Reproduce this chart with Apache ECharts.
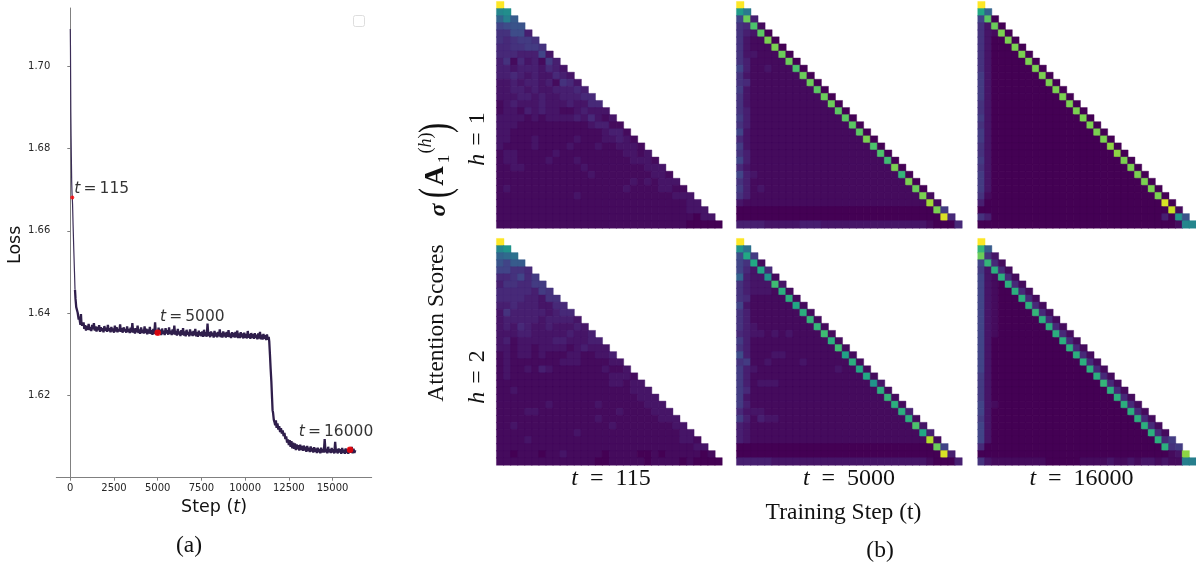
<!DOCTYPE html>
<html><head><meta charset="utf-8">
<style>html,body{margin:0;padding:0;background:#fff;overflow:hidden}#c{width:1196px;height:567px}</style>
<script src="https://cdn.jsdelivr.net/npm/echarts@6/dist/echarts.min.js"></script>
</head><body><div id="c"></div>
<script>
const lossSteps=[0,10,20,30,45,60,80,100,115,130,160,200,240,270,300,340,380,420,440,480,520,550,580,610,640,680,720,760,
800,850,900,950,1000,1050,1100,1150,1200,1250,1300,1350,1400,1450,1500,1550,1600,1650,1700,1750,1800,1850,1900,1950,2000,2050,2100,2150,2200,2250,
2300,2350,2400,2450,2500,2550,2600,2650,2700,2750,2800,2850,2900,2950,3000,3050,3100,3150,3200,3250,3300,3350,3400,3450,3500,3550,3600,3650,3700,3750,
3800,3850,3900,3950,4000,4050,4100,4150,4200,4250,4300,4350,4400,4450,4500,4550,4600,4650,4700,4750,4800,4850,4900,4950,5000,5050,5100,5150,5200,5250,
5300,5350,5400,5450,5500,5550,5600,5650,5700,5750,5800,5850,5900,5950,6000,6050,6100,6150,6200,6250,6300,6350,6400,6450,6500,6550,6600,6650,6700,6750,
6800,6850,6900,6950,7000,7050,7100,7150,7200,7250,7300,7350,7400,7450,7500,7550,7600,7650,7700,7750,7800,7850,7900,7950,8000,8050,8100,8150,8200,8250,
8300,8350,8400,8450,8500,8550,8600,8650,8700,8750,8800,8850,8900,8950,9000,9050,9100,9150,9200,9250,9300,9350,9400,9450,9500,9550,9600,9650,9700,9750,
9800,9850,9900,9950,10000,10050,10100,10150,10200,10250,10300,10350,10400,10450,10500,10550,10600,10650,10700,10750,10800,10850,10900,10950,11000,11050,11100,11150,11200,11250,11300,11350,
11380,11420,11460,11500,11540,11570,11600,11640,11680,11720,11760,11800,11850,11900,11950,12000,12050,12100,12150,12200,12250,12300,12350,12400,12450,12500,12550,12600,12650,12700,12750,
12800,12850,12900,12950,13000,13050,13100,13150,13200,13250,13300,13350,13400,13450,13500,13550,13600,13650,13700,13750,13800,13850,13900,13950,14000,14050,14100,14150,14200,14250,
14300,14350,14400,14450,14500,14550,14600,14650,14700,14750,14800,14850,14900,14950,15000,15050,15100,15150,15200,15250,15300,15350,15400,15450,15500,15550,15600,15650,15700,15750,
15800,15850,15900,15950,16000,16050,16100,16150,16200,16250,16300];
const lossValues=[1.709,1.7045,1.697,1.689,1.683,1.678,1.672,1.669,1.668,1.6665,1.6615,1.6555,1.650,1.6457,1.6435,1.6415,1.6412,1.6402,1.640,1.6385,1.6392,1.638,1.6372,1.6398,1.6375,1.637,1.6366,1.6378,
1.6362,1.6371,1.6358,1.6369,1.6360,1.6374,1.6359,1.6366,1.6357,1.6372,1.6361,1.6376,1.6358,1.6368,1.6356,1.6367,1.6359,1.6371,1.6355,1.6366,1.6357,1.6364,1.6354,1.6369,1.6358,1.6365,1.6355,1.6372,1.6357,1.6364,
1.6354,1.6367,1.6356,1.6363,1.6353,1.6370,1.6356,1.6366,1.6354,1.6362,1.6356,1.6373,1.6355,1.6364,1.6353,1.6366,1.6356,1.6362,1.6353,1.6368,1.6355,1.6362,1.6352,1.6365,1.6354,1.6376,1.6353,1.6363,1.6351,1.6364,
1.6354,1.6370,1.6352,1.6361,1.6350,1.6366,1.6353,1.6360,1.6351,1.6368,1.6352,1.6363,1.6349,1.6361,1.6351,1.6367,1.6350,1.6359,1.6348,1.6362,1.6350,1.6378,1.6348,1.6358,1.6347,1.6365,1.6350,1.6360,1.6347,1.6363,
1.6350,1.6358,1.6347,1.6364,1.6351,1.6359,1.6348,1.6366,1.6350,1.6358,1.6347,1.6361,1.6349,1.6370,1.6348,1.6357,1.6346,1.6362,1.6349,1.6356,1.6345,1.6359,1.6348,1.6364,1.6346,1.6356,1.6344,1.6360,1.6348,1.6355,
1.6344,1.6361,1.6347,1.6355,1.6345,1.6357,1.6347,1.6362,1.6344,1.6354,1.6343,1.6358,1.6346,1.6354,1.6344,1.6356,1.6343,1.6360,1.6345,1.6354,1.6343,1.6375,1.6345,1.6354,1.6342,1.6356,1.6345,1.6353,1.6341,1.6357,
1.6344,1.6353,1.6342,1.6355,1.6344,1.6361,1.6342,1.6352,1.6341,1.6356,1.6344,1.6353,1.6341,1.6355,1.6343,1.6359,1.6342,1.6351,1.6340,1.6354,1.6343,1.6352,1.6341,1.6355,1.6342,1.6358,1.6340,1.6351,1.6340,1.6354,
1.6342,1.6351,1.6339,1.6353,1.6341,1.6350,1.6339,1.6357,1.6341,1.6350,1.6338,1.6352,1.6341,1.6349,1.6338,1.6352,1.6340,1.6348,1.6337,1.6351,1.6339,1.6355,1.6337,1.6348,1.6336,1.6350,1.6338,1.6347,1.6335,1.6349,1.6336,1.6343,
1.6332,1.6300,1.6265,1.6235,1.6195,1.6165,1.6158,1.6142,1.6136,1.6128,1.6140,1.6122,1.6133,1.6118,1.6126,1.6112,1.6121,1.6108,1.6116,1.6102,1.6110,1.6095,1.6101,1.6086,1.6094,1.6080,1.6092,1.6076,1.6090,1.6072,1.6086,
1.6071,1.6084,1.6068,1.6082,1.6070,1.6080,1.6067,1.6081,1.6069,1.6078,1.6066,1.6079,1.6067,1.6076,1.6064,1.6078,1.6066,1.6074,1.6063,1.6077,1.6065,1.6073,1.6062,1.6075,1.6064,1.6072,1.6061,1.6074,1.6063,1.6071,
1.6060,1.6074,1.6062,1.6070,1.6062,1.6095,1.6063,1.6071,1.6060,1.6076,1.6063,1.6070,1.6061,1.6073,1.6062,1.6070,1.6060,1.6088,1.6062,1.6070,1.6060,1.6072,1.6062,1.6070,1.6059,1.6073,1.6062,1.6069,1.6059,1.6072,
1.6061,1.6070,1.6059,1.6074,1.6069,1.6062,1.6076,1.6060,1.6071,1.6061,1.6068];
const headPointCount=14;
const markerSteps=[115,5000,16000];
const markerLosses=[1.6681,1.6353,1.6069];
const markerNames=['115','5000','16000'];
const xTicks=[0,2500,5000,7500,10000,12500,15000];
const yTicks=[1.62,1.64,1.66,1.68,1.70];

// one character per cell, 0..z = 0..35 on the colour scale; spaces are only for reading
const heatT115H1=['z','gh','bfa','7899','55883','54566 5','44556 65','44433 372','35142 3163','33233 32432','33432 32243 2','22323 32315 42','22332 32233 343','22233 23223 3344','12322 23222 32244','12213 23221 12322 2','22221 21222 23242 12','22211 11111 11123 311','22111 11111 11111 2331','22111 21111 12111 22321','21111 21111 21112 11222 1','12211 11121 11111 11122 12','12211 11211 12111 11112 221','11221 11111 11211 11111 1222','11111 11111 11121 11111 11221','11111 11111 11111 11112 12122 2','12111 11111 11111 11121 11122 11','11111 11111 12111 11111 11111 222','11111 11111 11111 11111 11111 1122','11111 11111 11111 11111 11111 11222','11111 11111 11111 11111 11111 11102 2','11111 11111 11111 11111 11111 11000 00'];
const heatT5000H1=['z','je','7r3','54p1','532q0','5211s 0','52111 s0','52211 1r0','53111 11r0','73112 111p0','52111 1111r 0','54111 11111 r0','62111 11111 1q0','52111 11111 11r0','52111 11111 111r0','53111 11111 1111q 0','63111 11111 11111 q0','53111 11111 11111 1q0','72111 11111 11111 11q0','42111 11111 11111 111s0','62111 11111 11111 1111p 0','53111 11111 11111 11111 p0','73111 11111 11111 11111 1o0','42111 11111 11111 11111 11s0','73211 11111 11111 11111 111n0','53111 11111 11111 11111 1111s 0','63121 11111 11111 11111 11111 r0','53111 11111 11111 11111 11111 1s1','21111 11111 11111 11111 11111 11u1','00000 00000 00000 00000 00000 000s6','00000 00000 00000 00000 00000 0000x 4','33332 22223 33222 22222 22222 22100 04'];
const heatT16000H1=['z','lb','7q0','52r0','521s0','5200s 0','52000 s0','52000 0s0','52000 00s0','52000 000s0','62000 0000s 0','62000 00000 s0','62000 00000 0s0','62000 00000 00s0','52000 00000 000s0','52000 00000 0000s 0','62000 00000 00000 s0','52000 00000 00000 0s0','62000 00000 00000 00s0','62000 00000 00000 000s0','52000 00000 00000 0000t 0','52000 00000 00000 00000 t0','62000 00000 00000 00000 0s0','52000 00000 00000 00000 00s0','62000 00000 00000 00000 000s0','62000 00000 00000 00000 0000s 0','62000 00000 00000 00000 00000 s0','51000 00000 00000 00000 00000 0s0','30000 00000 00000 00000 00000 00x0','00000 00000 00000 00000 00000 000w1','53000 00000 00000 00000 00000 0030i 9','00000 00000 00000 00000 00000 00001 gg'];
const heatT115H2=['z','gi','bcd','97aa','77554','44574 6','35544 66','44444 365','44443 3255','33433 32244','25333 33234 4','23333 32333 32','23243 22322 232','22233 22222 3223','23122 22233 22233','22122 12222 12322 2','12122 12111 22112 23','12111 11112 22111 122','12112 13211 11111 2112','12111 11111 11111 12221','11111 11111 11111 12212 2','11211 11111 11111 11112 22','11111 11111 11111 11111 222','11111 11211 11112 11111 1222','11112 21111 11111 11211 11222','11111 11111 11112 11111 11122 2','11211 11111 11111 12111 11111 22','11111 11111 12111 11111 11111 122','11112 11111 11111 11111 11111 1221','11111 11111 11111 11111 11111 11122','11011 10112 11111 01111 00101 11110 1','11111 11111 11110 01111 10111 10100 00'];
const heatT5000H2=['z','id','8l6','75l1','742l4','b322i 1','53222 o2','53222 1m1','54111 11m1','72111 111l1','53111 1111m 1','53111 11111 n1','53211 11111 1n1','43221 21211 11o1','63111 11111 111m1','53111 11111 1111o 1','83111 22111 11111 k1','56112 11112 11111 1m1','63211 11111 11112 11l1','63111 11111 11111 111l1','63122 21111 11111 1111i 2','64111 11111 11111 11111 m1','62111 11111 11111 11111 1n1','63111 11111 11111 11111 11m1','42221 11111 11111 11111 111m3','63132 21111 11111 11111 1111m 1','32111 11111 11111 11111 11111 p2','32111 11111 11111 11111 11111 1l3','32111 11111 11111 11111 11111 11v1','00000 00000 00000 00000 00000 000r7','00000 00000 00000 00000 00000 0000x 3','33333 22222 22222 22222 22222 22100 03'];
const heatT16000H2=['z','na','r52','7n41','62m41','721m4 1','7210m 41','72100 m41','72100 0m41','72100 00m41','72100 000n4 1','72100 0000m 41','72100 00000 m41','72100 00000 0m41','72000 00000 00m41','72000 00000 000m4 1','72000 00000 0000m 41','72000 00000 00000 m41','72000 00000 00000 0m41','62000 00000 00000 00m41','62000 00000 00000 000n4 1','62000 00000 00000 0000m 41','62000 00000 00000 00000 m41','72100 00000 00000 00000 0m41','72000 00000 00000 00000 00m41','62000 00000 00000 00000 000m4 1','72000 00000 00000 00000 0000m 41','72000 00000 00000 00000 00000 m41','72000 00000 00000 00000 00000 0m46','40000 00000 00000 00000 00000 00m56','00000 00000 00000 00000 00000 00012 t','52111 11111 00000 11112 11212 21211 ff'];
const heatPanels=[heatT115H1,heatT5000H1,heatT16000H1,heatT115H2,heatT5000H2,heatT16000H2];
const viridis=['#440154','#482475','#414487','#355f8d','#2a788e','#21918c','#22a884','#44bf70','#7ad151','#bddf26','#fde725'];

const cellIndex=[...Array(32).keys()];
function cells(rows){const out=[];rows.forEach((s,r)=>{[...s.replace(/ /g,'')].forEach((ch,c)=>{const v=parseInt(ch,36)/35;
  out.push({value:[c,r,v],itemStyle:{borderColor:echarts.color.lerp(v,viridis),borderWidth:0.4}});});});return out;}
const panelBox=[[496.7,1.7],[736.7,1.7],[978,1.7],[496.7,238.7],[736.7,238.7],[978,238.7]];

const grids=[{left:56.3,top:8,width:315.4,height:469.7}];
const xAxes=[{type:'value',gridIndex:0,min:-800,max:17240,splitLine:{show:false},
  axisLine:{lineStyle:{color:'#808080',width:1}},
  axisTick:{length:3,lineStyle:{color:'#808080'},customValues:xTicks},
  axisLabel:{customValues:xTicks,color:'#262626',fontSize:10,fontFamily:'DejaVu Sans',margin:6,hideOverlap:false,formatter:v=>String(v)},
  name:'{n|Step (}{i|t}{n|)}',nameLocation:'middle',nameGap:19,
  nameTextStyle:{rich:{n:{fontFamily:'DejaVu Sans',fontSize:17.5,color:'#111'},i:{fontFamily:'DejaVu Sans',fontStyle:'italic',fontSize:17.5,color:'#111'}}}}];
const yAxes=[{type:'value',gridIndex:0,min:1.6001,max:1.7141,splitLine:{show:false},
  axisLine:{show:true,lineStyle:{color:'#808080',width:1}},
  axisTick:{show:true,length:3,lineStyle:{color:'#808080'},customValues:yTicks},
  axisLabel:{customValues:yTicks,color:'#262626',fontSize:10,fontFamily:'DejaVu Sans',margin:6,formatter:v=>v.toFixed(2)},
  name:'Loss',nameLocation:'middle',nameGap:28,
  nameTextStyle:{fontFamily:'DejaVu Sans',fontSize:17.5,color:'#111',padding:[0,4,0,0]}}];
const lossPoints=lossSteps.map((s,i)=>[s,lossValues[i]]);
const series=[
 {type:'line',xAxisIndex:0,yAxisIndex:0,data:lossPoints.slice(0,headPointCount),showSymbol:false,lineStyle:{color:'#3b2d57',width:1.2},z:2},
 {type:'line',xAxisIndex:0,yAxisIndex:0,data:lossPoints.slice(headPointCount-1),showSymbol:false,lineStyle:{color:'#2f1e4b',width:2.3},z:2},
 {type:'scatter',xAxisIndex:0,yAxisIndex:0,z:3,symbolSize:(v,p)=>p.dataIndex===0?4:6.5,itemStyle:{color:'#ff0000'},
  data:markerSteps.map((s,i)=>{
    const pos=[['right',[-5,-9]],['right',[-6,-16]],['top',[-14,-1]]][i];
    return {value:[s,markerLosses[i]],label:{show:true,position:pos[0],offset:pos[1],formatter:'{i|t}{n|\u2009=\u2009'+markerNames[i]+'}',
      rich:{i:{fontFamily:'DejaVu Sans',fontStyle:'italic',fontSize:15.5,color:'#000'},n:{fontFamily:'DejaVu Sans',fontSize:15.5,color:'#000'}}}};
  })}
];
heatPanels.forEach((rows,i)=>{
  const gi=i+1;
  grids.push({left:panelBox[i][0],top:panelBox[i][1],width:225.3,height:226.3});
  xAxes.push({type:'category',gridIndex:gi,data:cellIndex,show:false});
  yAxes.push({type:'category',gridIndex:gi,data:cellIndex,show:false,inverse:true});
  series.push({type:'heatmap',xAxisIndex:gi,yAxisIndex:gi,data:cells(rows),progressive:0,emphasis:{disabled:true}});
});
const serif='Liberation Serif';
const R=Math.PI/2;
function mathRich(size){return {i:{fontFamily:serif,fontStyle:'italic',fontSize:size,fill:'#111',color:'#111'},n:{fontFamily:serif,fontSize:size,fill:'#111',color:'#111'}};}
function label(x,y,text,size,rot){return {type:'text',x,y,rotation:rot||0,style:{text,rich:mathRich(size),align:'center',verticalAlign:'middle',fill:'#111'}};}
const math=(name,v)=>'{i|'+name+'}{n|\u2002=\u2002'+v+'}';
const mathTight=(name,v)=>'{i|'+name+'}{n|\u2004=\u2004'+v+'}';
const g=[
 {type:'rect',shape:{x:353.5,y:15.5,width:11,height:11,r:2},style:{fill:'#fff',stroke:'#dedede',lineWidth:1}},
 label(189,546,'{n|(a)}',23.5),
 label(880,551,'{n|(b)}',23.5),
 label(843.5,513,'{n|Training Step (t)}',23.5),
 label(611,479,math('t','115'),24),
 label(849,479,math('t','5000'),24),
 label(1081.5,479,math('t','16000'),24),
 label(437,323,'{n|Attention Scores}',23.5,R),
 label(478,139,mathTight('h','1'),24,R),
 label(478,377,mathTight('h','2'),24,R),
 {type:'group',x:445,y:217,rotation:R,children:[
   {type:'text',x:7,y:-6,style:{text:'σ',fontFamily:serif,fontWeight:'bold',fontStyle:'italic',fontSize:24,fill:'#111',align:'center',verticalAlign:'middle'}},
   {type:'text',x:24,y:-7,scaleY:1.45,style:{text:'(',fontFamily:serif,fontSize:30,fill:'#111',align:'center',verticalAlign:'middle'}},
   {type:'text',x:41,y:-9,style:{text:'A',fontFamily:serif,fontWeight:'bold',fontSize:27,fill:'#111',align:'center',verticalAlign:'middle'}},
   {type:'text',x:58,y:0,style:{text:'1',fontFamily:serif,fontSize:17,fill:'#111',align:'center',verticalAlign:'middle'}},
   {type:'text',x:74,y:-19,style:{text:'{n|(}{i|h}{n|)}',rich:mathRich(18),align:'center',verticalAlign:'middle',fill:'#111'}},
   {type:'text',x:89,y:-7,scaleY:1.45,style:{text:')',fontFamily:serif,fontSize:30,fill:'#111',align:'center',verticalAlign:'middle'}}
 ]}
];
const chart=echarts.init(document.getElementById('c'),null,{renderer:'canvas'});
chart.setOption({animation:false,backgroundColor:'#fff',grid:grids,xAxis:xAxes,yAxis:yAxes,
  visualMap:{show:false,type:'continuous',min:0,max:1,seriesIndex:[3,4,5,6,7,8],inRange:{color:viridis}},
  series,graphic:g});
</script></body></html>
